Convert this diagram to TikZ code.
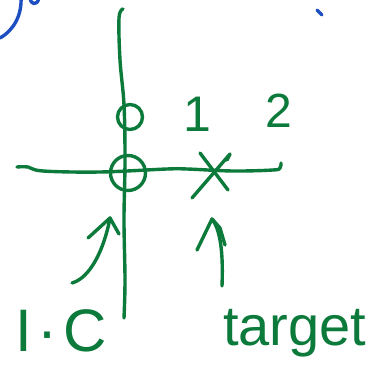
\documentclass[tikz,border=0pt]{standalone}
\usepackage{fontspec}
\setmainfont{Liberation Sans}
\definecolor{pen}{HTML}{0B7A3B}
\definecolor{bpen}{HTML}{1E4FC0}
\begin{document}
\begin{tikzpicture}[x=1pt,y=-1pt,
  ink/.style={draw=pen,line width=3.4pt,line cap=round,line join=round},
  binkstyle/.style={draw=bpen,line width=3.4pt,line cap=round,line join=round},
  hand/.style={text=pen,inner sep=0pt,anchor=base}]
\useasboundingbox (0,0) rectangle (377,379);
% blue remnants
\path[binkstyle] (0,38) .. controls (14,30) and (22,15) .. (21,-3);
\path[binkstyle] (30,-2) .. controls (31,5) and (37,6) .. (39,-2);
\path[binkstyle] (317,10) -- (322,15);
% axes
\path[ink] plot[smooth,tension=0.6] coordinates {(123,9) (119,18) (120,60) (124,105) (125,160) (124,220) (125,280) (124,318)};
\path[ink] plot[smooth,tension=0.6] coordinates {(17,167) (28,167) (43,171) (100,172) (167,169) (187,169) (233,171) (273,170) (280,168) (281,163)};
% circles
\node[ink,circle,minimum size=25pt,inner sep=0pt] (c1) at (130,117) {};
\node[ink,circle,minimum size=35pt,inner sep=0pt] (c2) at (128,173) {};
% X target
\path[ink] (200,153) -- (228,190);
\path[ink] (192,198) -- (230,154) -- (227,160);
% labels 1 and 2
\node[hand,font=\fontsize{50}{50}\selectfont] (one) at (197,132) {1};
\node[hand,font=\fontsize{48}{48}\selectfont] (two) at (279,128) {2};
% arrows
\coordinate (a1s) at (72,283);
\coordinate (a1t) at (110,218);
\path[ink] (a1s) .. controls (90,278) and (104,250) .. (a1t);
\path[ink] (88,238) -- (a1t) -- (119,234);
\coordinate (a2s) at (222,286);
\coordinate (a2t) at (212,219);
\path[ink] (a2s) .. controls (223,260) and (222,232) .. (a2t);
\path[ink] (197,250) -- (a2t) -- (220,228) -- (225,245);
% bottom labels
\node[hand,anchor=base west,font=\fontsize{60}{60}\selectfont] (ic) at (15,351) {I\hspace{6pt}·\hspace{6pt}C};
\node[hand,anchor=base west,font=\fontsize{56}{56}\selectfont] (tg) at (223,345) {target};
\end{tikzpicture}
\end{document}
